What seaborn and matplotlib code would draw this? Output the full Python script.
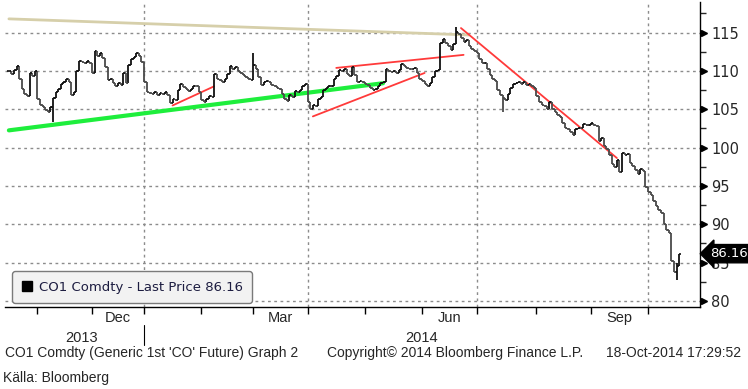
import numpy as np
import pandas as pd
import matplotlib
matplotlib.use("Agg")
import matplotlib.pyplot as plt
import seaborn as sns
from matplotlib.patches import Patch
from matplotlib.transforms import blended_transform_factory

# daily trading days, CO1 Comdty (Brent front month), exchange holidays skipped
holidays = ["2013-12-25", "2013-12-26", "2014-01-01"]
dates = pd.bdate_range("2013-10-17", "2014-10-17", freq="C", holidays=holidays)
close = [
    110.0, 109.6, 110.1, 110.6, 109.0, 107.6, 107.0, 106.7, 109.8, 109.4,
    110.0, 106.3, 105.5, 105.3, 104.9, 104.7, 105.3, 106.5, 107.2, 107.6,
    108.3, 108.5, 109.0, 108.5, 106.9, 107.2, 110.0, 111.3, 111.2, 111.0,
    111.3, 111.1, 109.7, 112.6, 112.0, 112.3, 111.7, 110.5, 108.8, 109.0,
    108.4, 108.0, 108.4, 108.2, 109.8, 108.4, 110.8, 111.6, 111.8, 112.3,
    112.0, 111.2, 108.5, 107.3, 107.1, 107.0, 107.2, 106.9,
    107.1, 107.0, 107.3, 106.9, 105.8, 106.4, 106.2, 107.5, 108.3, 107.9,
    107.6, 107.4, 107.7, 108.1, 108.0, 107.3, 106.2, 106.0, 106.4, 106.7,
    106.6, 109.6, 109.0, 108.8, 108.6, 108.9, 109.6, 110.6, 110.3, 110.5,
    110.0, 109.8, 109.5, 109.2, 109.0, 108.8, 110.8, 110.3, 109.2, 108.2,
    108.5, 108.7, 108.5, 108.2, 108.0, 107.8, 107.6, 107.0, 106.4, 106.1,
    106.8, 106.6, 107.4, 107.3, 107.5, 108.0, 108.3, 106.0, 105.0, 105.6,
    105.4, 106.3, 106.6, 107.5, 107.8, 108.0, 108.1, 109.0, 109.3, 110.1,
    110.0, 110.2, 109.6, 109.4, 110.5, 109.5, 108.6, 108.7, 108.5, 108.3,
    108.2, 107.8, 107.5, 107.7, 108.0, 108.4, 108.5, 110.2, 110.0, 109.9,
    110.0, 109.8, 110.1, 110.9, 110.7, 110.4, 110.3, 110.2, 110.4, 109.7,
    109.0, 108.7, 108.3, 108.1, 108.4, 109.2, 110.0, 110.1, 113.6, 114.2,
    113.6, 113.2, 112.8, 113.5, 115.1, 114.8, 114.3, 113.8, 114.0, 113.3,
    112.9, 112.6, 112.3, 111.5, 111.0, 111.1, 110.3, 109.5, 109.0, 108.7,
    107.5, 106.8, 106.5, 106.2, 107.0, 107.8, 108.3, 108.4, 108.6, 108.3,
    108.5, 108.2, 108.3, 108.0, 107.8, 106.7, 106.0, 105.6, 105.4, 105.0,
    106.0, 105.1, 104.6, 104.3, 104.0, 103.2, 102.5, 102.4, 102.0, 101.6,
    102.4, 102.6, 102.5, 103.1, 102.9, 103.0, 103.2, 102.9, 102.8, 100.8,
    101.2, 100.2, 99.8, 99.0, 97.8, 97.5, 98.4, 96.8, 99.3, 99.1,
    99.2, 98.0, 97.6, 97.1, 96.5, 97.2, 97.0, 94.8, 94.2,
    93.8, 93.0, 92.4, 91.8, 91.5, 90.0, 89.2, 88.9, 85.2, 83.8,
    84.5, 86.16,
]
# intraday extremes that stick out
wick_dates = ["2013-11-11", "2014-03-03", "2014-06-19", "2014-07-15", "2014-10-16"]
wick_low = [103.3, 110.2, 114.6, 104.7, 82.7]
wick_high = [105.8, 112.4, 115.7, 106.9, 85.0]

# hand-drawn trend lines: start date, start price, end date, end price
trend_start = ["2013-10-17", "2013-10-17", "2014-01-17", "2014-04-16", "2014-04-03", "2014-06-23"]
trend_p0 = [116.8, 102.25, 105.5, 110.4, 104.07, 115.6]
trend_end = ["2014-06-26", "2014-05-12", "2014-02-10", "2014-06-24", "2014-06-03", "2014-09-15"]
trend_p1 = [114.7, 108.4, 108.0, 112.1, 109.74, 98.64]
trend_color = ["#d6cfaa", "#1eee3c", "#ff3a3a", "#ff3a3a", "#ff3a3a", "#ff3a3a"]
trend_lw = [2.0, 3.0, 1.3, 1.3, 1.3, 1.3]

month_labels = {"Dec": "2013-12", "Mar": "2014-03", "Jun": "2014-06", "Sep": "2014-09"}
last_price = 86.16

df = pd.DataFrame({"date": dates, "close": close})
df["x"] = np.arange(len(df))
df["open"] = df["close"].shift(1).fillna(df["close"])
df["high"] = df[["open", "close"]].max(axis=1)
df["low"] = df[["open", "close"]].min(axis=1)
for d, lo, hi in zip(wick_dates, wick_low, wick_high):
    m = df["date"] == pd.Timestamp(d)
    df.loc[m, "low"] = np.minimum(df.loc[m, "low"], lo)
    df.loc[m, "high"] = np.maximum(df.loc[m, "high"], hi)

def idx(d):
    return int(np.searchsorted(df["date"].values, np.datetime64(pd.Timestamp(d))))

sns.set_style("white")
plt.rcParams["font.family"] = ["Liberation Sans", "DejaVu Sans"]

fig = plt.figure(figsize=(7.48, 3.89), dpi=100)
ax = fig.add_axes([5 / 748, 82 / 389, 695 / 748, 305 / 389])

# grid
grid_style = dict(color="#8c8c8c", lw=1, ls=(0, (2, 2.5)), zorder=0)
for y in range(80, 120, 5):
    ax.axhline(y, **grid_style)
for q in ["2014-01-02", "2014-04-01", "2014-07-01", "2014-10-01"]:
    ax.axvline(idx(q), **grid_style)

# OHLC bars
up = df["close"] >= df["open"]
cols = np.where(up, "#111111", "#4a4a4a")
ax.vlines(df["x"], df["low"], df["high"], colors=cols, lw=1.3, zorder=3)
ax.hlines(df["open"], df["x"] - 0.7, df["x"], colors=cols, lw=1.2, zorder=3)
ax.hlines(df["close"], df["x"], df["x"] + 0.7, colors=cols, lw=1.2, zorder=3)

# trend lines
for s, p0, e, p1, c, lw in zip(trend_start, trend_p0, trend_end, trend_p1, trend_color, trend_lw):
    sns.lineplot(x=[idx(s), idx(e)], y=[p0, p1], ax=ax, color=c, lw=lw, zorder=2)

ax.set_xlim(-1.5, 266.0)
ax.set_ylim(79.2, 119.0)

# spines
for s in ["left", "top"]:
    ax.spines[s].set_visible(False)
for s in ["right", "bottom"]:
    ax.spines[s].set_color("black")
    ax.spines[s].set_linewidth(1)

# y axis on the right with arrow markers
ax.yaxis.tick_right()
ax.set_yticks(range(80, 120, 5))
ax.set_yticks(np.arange(82.5, 119, 5), minor=True)
ax.tick_params(axis="y", which="major", length=0, pad=8)
ax.tick_params(axis="y", which="minor", length=4, width=1, direction="out", right=True, left=False)
for t in ax.get_yticklabels():
    t.set_fontfamily("DejaVu Sans")
    t.set_fontsize(10.5)
blend = blended_transform_factory(ax.transAxes, ax.transData)
ax.plot([1.006] * 8, list(range(80, 120, 5)), ls="none", marker=">", ms=5,
        color="black", transform=blend, clip_on=False)

# last price box
ax.text(1.0145, last_price, f"{last_price:.2f}", transform=blend, color="white",
        fontsize=9.5, va="center", ha="left", family="DejaVu Sans",
        bbox=dict(boxstyle="larrow,pad=0.2", fc="black", ec="black"))

# x axis: month ticks, quarter labels, years
month_starts = [idx(m) for m in pd.date_range("2013-11-01", "2014-10-01", freq="MS")]
ax.set_xticks(month_starts)
ax.set_xticklabels([])
ax.tick_params(axis="x", which="major", length=5, width=1, direction="out", bottom=True, color="black")
bx = blended_transform_factory(ax.transData, ax.transAxes)
for lab, m in month_labels.items():
    p = pd.Period(m)
    mid = (idx(p.start_time) + idx(p.end_time)) / 2
    ax.text(mid, -0.037, lab, transform=bx, ha="center", va="center", fontsize=10.5)
ax.text((idx("2013-10-17") + idx("2014-01-02")) / 2 + 2, -0.102, "2013", transform=bx,
        ha="center", va="center", fontsize=10.5)
ax.text(idx("2014-06-01"), -0.102, "2014", transform=bx, ha="center", va="center", fontsize=10.5)
ax.plot([idx("2014-01-02")] * 2, [-0.06, -0.125], transform=bx, color="black", lw=0.8, clip_on=False)

# legend
leg = ax.legend(handles=[Patch(fc="black", ec="black")],
                labels=[f"CO1 Comdty - Last Price {last_price:.2f}"],
                loc="lower left", bbox_to_anchor=(0.001, -0.008), fancybox=True,
                framealpha=1, facecolor="#f2f2f2", edgecolor="#7a7a7a",
                handlelength=0.8, handleheight=0.8, handletextpad=0.5,
                prop={"family": "DejaVu Sans", "size": 9.5}, borderpad=0.7,
                labelcolor="#1c1c40")
leg.get_frame().set_linewidth(1)

# footer
fig.text(5 / 748, 1 - 353 / 389, "CO1 Comdty (Generic 1st 'CO' Future) Graph 2", fontsize=10, va="center")
fig.text(327 / 748, 1 - 353 / 389, "Copyright\u00a9 2014 Bloomberg Finance L.P.", fontsize=10, va="center")
fig.text(741 / 748, 1 - 353 / 389, "18-Oct-2014 17:29:52", fontsize=10, va="center", ha="right")
fig.text(3 / 748, 1 - 378 / 389, "Källa: Bloomberg", fontsize=10, va="center")

fig.savefig("out.png", dpi=100, facecolor="white")
